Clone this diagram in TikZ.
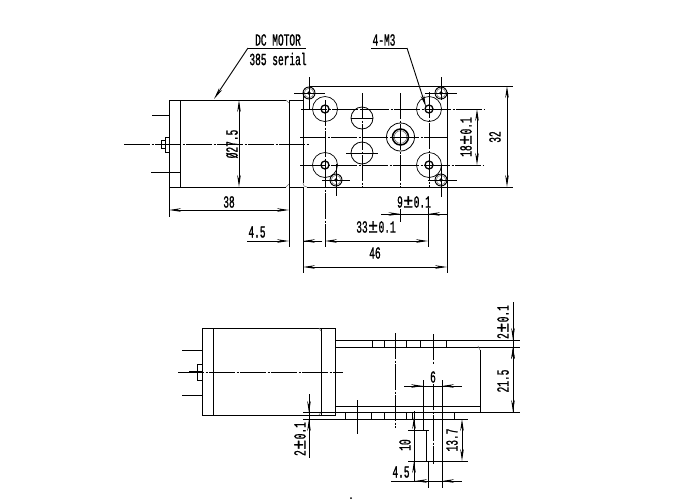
\documentclass[tikz,border=0pt]{standalone}
\usepackage{fontspec}
\usetikzlibrary{arrows.meta}
\newfontfamily\dimfont[FakeStretch=0.56,FakeBold=1]{Liberation Mono}
\newcommand{\pmwide}{\hspace{.6pt}\scalebox{1.7}[1.12]{±}\hspace{.6pt}}
\tikzset{
  every path/.style={line width=.9pt},
  dimline/.style={{Stealth[length=12pt,width=3.6pt]}-{Stealth[length=12pt,width=3.6pt]}},
  dimend/.style={-{Stealth[length=12pt,width=3.6pt]}},
  centerline/.style={dash pattern=on 26pt off 1.5pt on 2pt off 1.5pt},
  softcorner/.style={line width=.6pt,black!55},
  dimtext/.style={inner sep=0pt,font=\dimfont\fontsize{17}{18}\selectfont}
}
\newcommand{\dimlabel}[4]{\node[dimtext] (#1) at (#2,#3) {#4};}
\newcommand{\dimlabelup}[4]{\node[dimtext,rotate=90] (#1) at (#2,#3) {#4};}
\newcommand{\drawscrew}[2]{
  \draw (#1,#2) circle (6);
  \draw[softcorner] (#1,#2) circle (4.8);
  \fill (#1,#2) circle (1.8);
}
\newcommand{\drawmount}[2]{
  \draw[line width=.7pt] (#1,#2) circle (12.5);
  \draw[line width=1.3pt] (#1,#2) circle (4);
}
\begin{document}
\begin{tikzpicture}[x=1pt,y=-1pt]
\useasboundingbox (0,0) rectangle (700,499);
\draw (169,100)--(286,100) (169,187)--(286,187) (169,100)--(169,217) (180,100)--(180,187);
\draw[softcorner] (286,100)--(289,103) (286,187)--(289,184);
\draw (289,100)--(289,247) (289,100)--(303,100) (289,187)--(303,187);
\draw (152,115)--(169,115) (151,172)--(180,172);
\draw (161,140) rectangle (165,148) (165,137) rectangle (169,152);
\draw[centerline] (124,144)--(309,144);
\draw (303,92)--(303,183) (307,187)--(513,187) (309,86)--(513,86);
\draw[softcorner] (303,183)--(304,186)--(307,187);
\draw (303,187)--(303,273) (447,92)--(447,273);
\foreach \x in {325,429}{\foreach \y in {109,165}{\drawmount{\x}{\y}}}
\draw[line width=.8pt] (362,118) circle (11) (362,153) circle (11) (400.5,137) circle (14);
\draw[line width=1.5pt] (400.5,137) circle (8);
\draw[softcorner] (400.5,137) circle (6.3);
\drawscrew{309}{93}\drawscrew{441}{93}\drawscrew{336}{180}\drawscrew{441}{180}
\draw (309,77)--(309,109) (294,93)--(325,93);
\draw (441,77)--(441,100) (425,93)--(457,93);
\draw (336,164)--(336,196) (322,180)--(350,180);
\draw (441,165)--(441,197) (428,180)--(457,180);
\draw[centerline] (301,109)--(484,109);
\draw[centerline] (300,165)--(484,165);
\draw[centerline] (300,137)--(447,137);
\draw[centerline] (325,100)--(325,247);
\draw[centerline] (429,92)--(429,187);
\draw (428.5,208)--(428.5,247);
\draw[centerline] (362,93)--(362,187);
\draw[centerline] (400.5,93)--(400.5,187);
\draw (400.5,209)--(400.5,222);
\draw (351,118)--(373,118) (346,153)--(378,153);
\draw[dimline] (239,100)--(239,187);
\draw[dimline] (169,210)--(289,210);
\draw[dimline] (303,267)--(447,267);
\draw[dimline] (325,241)--(428,241);
\draw[dimline] (477,109)--(477,165);
\draw[dimline] (507,86)--(507,187);
\draw (247,241)--(275,241) (303,241)--(322,241);
\draw[dimend] (262,241)--(289,241);
\draw[dimend] (322,241)--(303,241);
\draw (381,214)--(447,214);
\draw[dimend] (385,214)--(400.5,214);
\draw[dimend] (445,214)--(428,214);
\draw (248,48)--(306,48) (371,48)--(407,48);
\draw[dimend] (248,48)--(214,99);
\draw[dimend] (407,48)--(426,107);
\dimlabel{motorname}{278}{40}{DC MOTOR}
\dimlabel{motorserial}{278}{59}{385 serial}
\dimlabel{threadname}{384}{40}{4-M3}
\dimlabelup{diameter}{232}{144}{Ø27.5}
\dimlabel{motorlen}{229}{202}{38}
\dimlabel{offsettop}{257}{232}{4.5}
\dimlabel{holesx}{376}{227}{33\pmwide0.1}
\dimlabel{plateside}{375}{253}{46}
\dimlabel{huboffset}{414}{202}{9\pmwide0.1}
\dimlabelup{holesy}{466}{137}{18\pmwide0.1}
\dimlabelup{plateheight}{495}{137}{32}
\draw (202,328) rectangle (335,415);
\draw (213,328)--(213,415) (321,328)--(321,415);
\draw[softcorner] (319,328)--(321,331) (319,415)--(321,412);
\draw (182,350)--(202,350) (182,395)--(202,395);
\draw (197,364) rectangle (202,380);
\draw[line width=1.4pt] (189,372)--(202,372);
\draw[centerline] (178,372)--(343,372);
\draw (335,340)--(520,340) (335,347)--(520,347);
\foreach \x in {372,384,406,420,446}{\draw (\x,340)--(\x,347);}
\draw (335,406)--(480,406) (480,350)--(480,412) (303,412.5)--(520,412.5) (303,419)--(468,419);
\draw[softcorner] (478,346)--(480,350);
\foreach \x in {345,371,384,406,412,454}{\draw (\x,412.5)--(\x,419);}
\draw (357,400)--(357,434);
\draw[centerline] (395,333)--(395,428);
\draw[centerline] (433,334)--(433,365);
\draw[centerline] (433,384)--(433,464);
\draw (423,380)--(423,430) (442,380)--(442,488);
\draw (408,430)--(429,430) (426,430)--(426,461) (408,461)--(468,461);
\draw (428,461)--(428,488) (391,481)--(462,481);
\draw (414,411)--(414,481);
\draw (404,386)--(462,386);
\draw[dimend] (405,386)--(423,386);
\draw[dimend] (460,386)--(442,386);
\draw[dimend] (414,429)--(414,417);
\draw[dimend] (414,473)--(414,461);
\draw[dimend] (428,481)--(415,481);
\draw[dimend] (455,481)--(442,481);
\draw[dimline] (462,419)--(462,461);
\draw (309,394)--(309,458);
\draw[dimend] (309,400)--(309,413);
\draw[dimend] (309,431)--(309,419);
\draw (513,302)--(513,412);
\draw[dimend] (513,328)--(513,340);
\draw[dimend] (513,359)--(513,347);
\draw[dimline] (513,347)--(513,412);
\dimlabelup{flangelow}{300}{439}{2\pmwide0.1}
\dimlabelup{flangeup}{503}{322}{2\pmwide0.1}
\dimlabelup{caseheight}{503}{381}{21.5}
\dimlabel{shaftgap}{433}{377}{6}
\dimlabelup{shaftten}{405}{445}{10}
\dimlabelup{shaftlong}{452}{440}{13.7}
\dimlabel{shaftoff}{401}{472}{4.5}
\fill (351,498) circle (1);
\end{tikzpicture}
\end{document}
